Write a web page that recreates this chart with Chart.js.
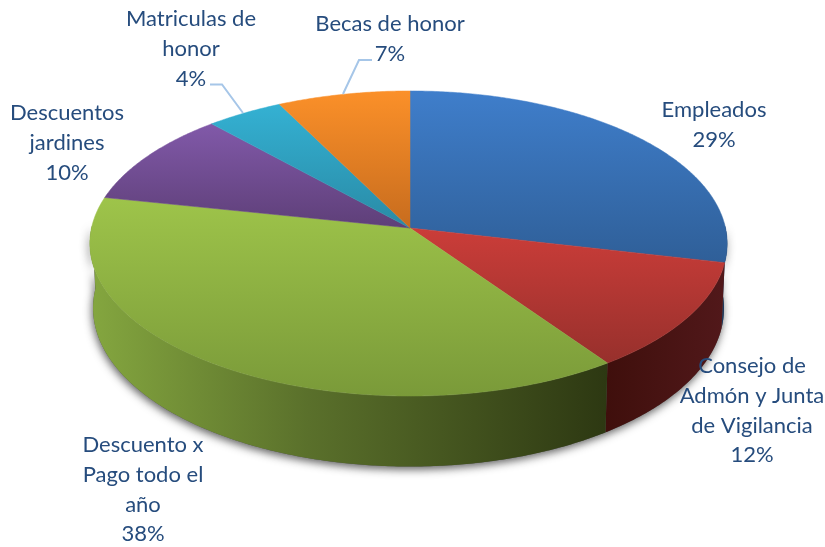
<!DOCTYPE html>
<html><head><meta charset="utf-8">
<style>html,body{margin:0;padding:0;background:#fff}canvas{display:block}</style>
<script src="https://cdn.jsdelivr.net/npm/chart.js@4/dist/chart.umd.js"></script>
</head><body><canvas id="c" width="825" height="547"></canvas>
<script>
const categories = ['Empleados','Consejo de Admón y Junta de Vigilancia','Descuento x Pago todo el año','Descuentos jardines','Matriculas de honor','Becas de honor'];
const values = [28.6, 11.7, 38.0, 10.0, 4.3, 7.4];
const percentLabels = ['29%','12%','38%','10%','4%','7%'];
const labelLines = [['Empleados'],['Consejo de','Admón y Junta','de Vigilancia'],['Descuento x','Pago todo el','año'],['Descuentos','jardines'],['Matriculas de','honor'],['Becas de honor']];
const labelAnchors = [[714,110],[752,366],[143,445],[67,113],[191,19],[390,24]];
const topLight = ['#3f7ecb','#cb3d39','#9ec44a','#8159a9','#34b1d3','#fb9029'];
const topDark  = ['#2f5f98','#97302c','#7a9a39','#5e3f78','#298aa5','#c76c1e'];
const wallStops = [
  [[0,'#1d3a5f'],[1,'#1d3a5f']],
  [[0,'#3f0f0c'],[1,'#51181a']],
  [[0,'#84a63f'],[0.42,'#5a702b'],[1,'#2d3812']],
  [[0,'#333'],[1,'#333']],[[0,'#333'],[1,'#333']],[[0,'#333'],[1,'#333']]
];
const wallRange = [[640,730],[607,723],[92,607],[0,1],[0,1],[0,1]];
const leaders = [[[372,60],[359,60],[343,94]],[[210,84.5],[222,84.5],[243,113]]];

// perspective of the disc: unit circle -> screen
const P = {cx:410, cy:228, R:317, skew:1.5, a:127.8, c:-0.1016, depth:64, depthV:6.5, wallScale:0.99};
function rim(angle){ // Chart.js angle (radians, -PI/2 = top)
  const u=Math.cos(angle), v=Math.sin(angle), w=1+P.c*v;
  return {x:P.cx+P.R*u/w-P.skew*u*u, y:(P.a*v+P.cy)/w, v};
}
function rimLow(angle){
  const p=rim(angle);
  return {x:P.cx+(p.x-P.cx)*P.wallScale, y:p.y+P.depth+P.depthV*p.v};
}
const STEP=Math.PI/180;
function gradY(ctx,i,y0,y1){const g=ctx.createLinearGradient(0,y0,0,y1);g.addColorStop(0,topLight[i]);g.addColorStop(1,topDark[i]);return g;}

// tilted, perspective drawing of each library arc element
Chart.ArcElement.prototype.draw = function(ctx){
  const i=this.$context.dataIndex, s=this.startAngle, e=this.endAngle;
  let ymin=P.cy,ymax=P.cy;
  ctx.save();
  ctx.beginPath();ctx.moveTo(P.cx,P.cy);
  for(let a=s;a<e;a+=STEP/2){const p=rim(a);ctx.lineTo(p.x,p.y);ymin=Math.min(ymin,p.y);ymax=Math.max(ymax,p.y);}
  const q=rim(e);ctx.lineTo(q.x,q.y);ymin=Math.min(ymin,q.y);ymax=Math.max(ymax,q.y);
  ctx.closePath();
  ctx.fillStyle=gradY(ctx,i,ymin,ymax);ctx.fill();
  ctx.strokeStyle=gradY(ctx,i,ymin,ymax);ctx.lineWidth=0.5;ctx.stroke();
  ctx.restore();
};

const wallPlugin={id:'wall',beforeDatasetsDraw(chart){
  const ctx=chart.ctx, arcs=chart.getDatasetMeta(0).data;
  const fr0=-0.02, fr1=Math.PI+0.02; // front half of the rim
  ctx.save();
  // soft shadow of the whole wall
  ctx.shadowColor='rgba(30,30,30,0.7)';ctx.shadowBlur=8;ctx.shadowOffsetY=3;ctx.shadowOffsetX=-1;
  ctx.fillStyle='#555';
  ctx.beginPath();
  for(let a=fr0;a<=fr1;a+=STEP){const p=rimLow(a);ctx.lineTo(p.x,p.y);}
  for(let a=fr1;a>=fr0;a-=STEP){const p=rim(a);ctx.lineTo(p.x,p.y);}
  ctx.closePath();ctx.fill();
  ctx.restore();
  arcs.forEach((el,i)=>{
    const two=Math.PI*2;
    let s=el.startAngle,e=el.endAngle;
    const ranges=[[s,e],[s+two,e+two],[s-two,e-two]];
    ranges.forEach(([a0,a1])=>{
      const b0=Math.max(a0,fr0),b1=Math.min(a1,fr1);
      if(b1<=b0)return;
      const g=ctx.createLinearGradient(wallRange[i][0],0,wallRange[i][1],0);
      wallStops[i].forEach(st=>g.addColorStop(st[0],st[1]));
      ctx.beginPath();
      for(let a=b0;a<b1;a+=STEP/2){const p=rim(a);ctx.lineTo(p.x,p.y);}
      let p=rim(b1);ctx.lineTo(p.x,p.y);p=rimLow(b1);ctx.lineTo(p.x,p.y);
      for(let a=b1;a>b0;a-=STEP/2){const r=rimLow(a);ctx.lineTo(r.x,r.y);}
      p=rimLow(b0);ctx.lineTo(p.x,p.y);
      ctx.closePath();ctx.fillStyle=g;ctx.fill();
    });
  });
}};

const labelPlugin={id:'labels',afterDatasetsDraw(chart){
  const ctx=chart.ctx;
  ctx.save();
  ctx.strokeStyle='#a6c6e8';ctx.lineWidth=2;
  leaders.forEach(l=>{ctx.beginPath();l.forEach((p,k)=>k?ctx.lineTo(p[0],p[1]):ctx.moveTo(p[0],p[1]));ctx.stroke();});
  ctx.fillStyle='#264c7d';ctx.font='22px Lato';ctx.textAlign='center';ctx.textBaseline='middle';
  labelLines.forEach((lines,i)=>{
    const all=lines.concat(percentLabels[i]);
    all.forEach((t,k)=>ctx.fillText(t,labelAnchors[i][0],labelAnchors[i][1]+k*29.8));
  });
  ctx.restore();
}};

new Chart(document.getElementById('c'),{
  type:'pie',
  data:{labels:categories,datasets:[{data:values,backgroundColor:topLight,borderWidth:0}]},
  options:{responsive:false,animation:false,rotation:0,
    plugins:{legend:{display:false},tooltip:{enabled:false}},
    layout:{padding:0}},
  plugins:[wallPlugin,labelPlugin]
});
</script></body></html>
